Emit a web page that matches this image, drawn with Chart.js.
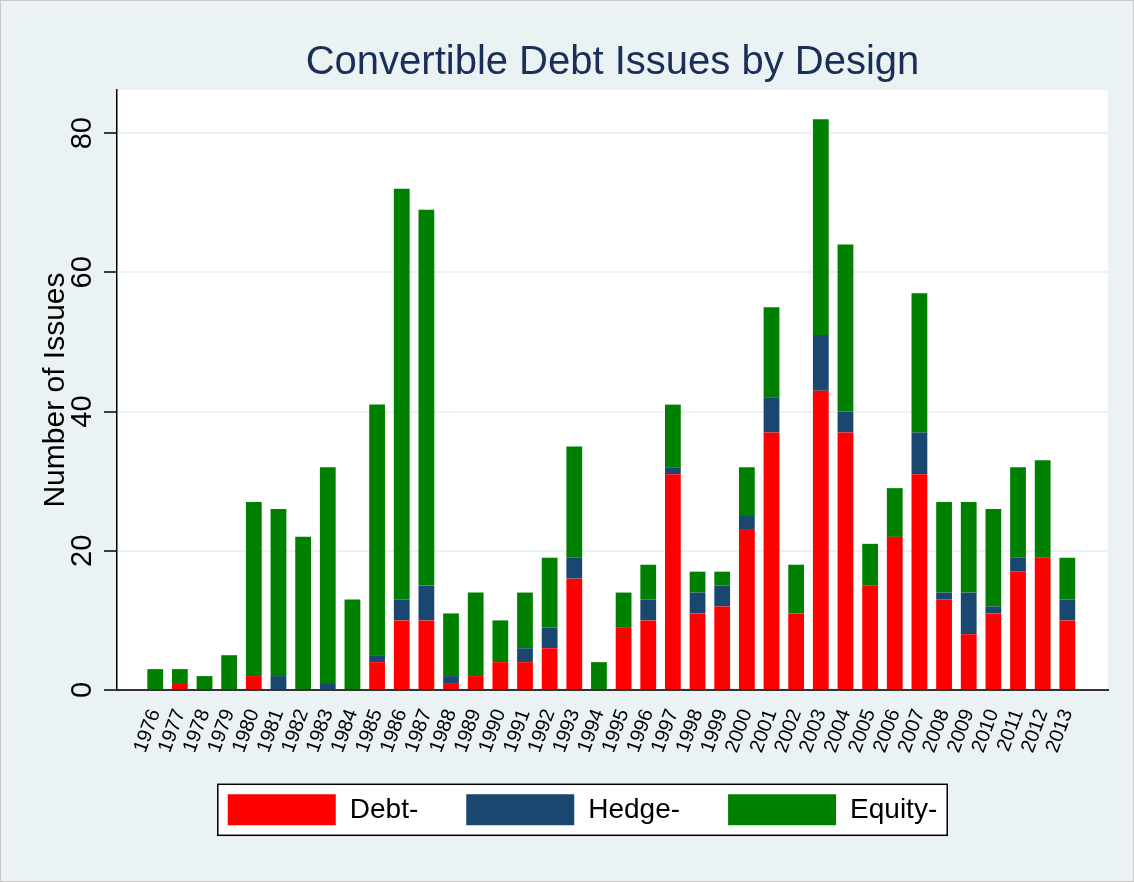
<!DOCTYPE html>
<html>
<head>
<meta charset="utf-8">
<script src="https://cdn.jsdelivr.net/npm/chart.js@4.4.1/dist/chart.umd.min.js"></script>
<style>
html,body{margin:0;padding:0;background:#EAF2F3;}
canvas{display:block;}
</style>
</head>
<body>
<canvas id="c" width="1134" height="882"></canvas>
<script>
// ---- data ----
const years  = [1976,1977,1978,1979,1980,1981,1982,1983,1984,1985,1986,1987,1988,1989,1990,1991,1992,1993,1994,1995,1996,1997,1998,1999,2000,2001,2002,2003,2004,2005,2006,2007,2008,2009,2010,2011,2012,2013];
const debt   = [0,1,0,0,2,0,0,0,0,4,10,10,1,2,4,4,6,16,0,9,10,31,11,12,23,37,11,43,37,15,22,31,13,8,11,17,19,10];
const hedge  = [0,0,0,0,0,2,0,1,0,1,3,5,1,0,0,2,3,3,0,0,3,1,3,3,2,5,0,8,3,0,0,6,1,6,1,2,0,3];
const equity = [3,2,2,5,25,24,22,31,13,36,59,54,9,12,6,8,10,16,4,5,5,9,3,2,7,13,7,31,24,6,7,20,13,13,14,13,14,6];
const yTickValues = [0,20,40,60,80];
const seriesNames = ['Debt-','Hedge-','Equity-'];
const seriesColors = ['#FF0000','#1A476F','#008000'];
const titleText = 'Convertible Debt Issues by Design';
const yTitleText = 'Number of Issues';

const FONT = "'Liberation Sans', Arial, Helvetica, sans-serif";

const bgPlugin = {
  id: 'bgPlugin',
  beforeDraw(chart) {
    const {ctx, chartArea: a, width, height} = chart;
    ctx.save();
    ctx.fillStyle = '#EAF2F3';
    ctx.fillRect(0, 0, width, height);
    ctx.strokeStyle = '#c8c8c8';
    ctx.lineWidth = 1;
    ctx.strokeRect(0.5, 0.5, width - 1, height - 1);
    ctx.fillStyle = '#FFFFFF';
    ctx.fillRect(a.left, a.top, a.right - a.left, a.bottom - a.top);
    const lg = chart.legend;
    if (lg && lg.legendHitBoxes && lg.legendHitBoxes.length) {
      const hb = lg.legendHitBoxes;
      const first = hb[0], last = hb[hb.length - 1];
      const l = first.left - 10, r = last.left + last.width + 10;
      const t = first.top - 10, b = first.top + first.height + 10;
      ctx.fillStyle = '#FFFFFF';
      ctx.fillRect(l, t, r - l, b - t);
      ctx.strokeStyle = '#000000';
      ctx.lineWidth = 1.5;
      ctx.strokeRect(l, t, r - l, b - t);
    }
    ctx.restore();
  }
};

const seriesData = [debt, hedge, equity];
const datasets = seriesNames.map((name, i) => ({
  label: name,
  data: seriesData[i],
  backgroundColor: seriesColors[i],
  borderWidth: 0,
  barPercentage: 0.64,
  categoryPercentage: 1.0
}));

new Chart(document.getElementById('c'), {
  type: 'bar',
  data: { labels: years, datasets },
  plugins: [bgPlugin],
  options: {
    responsive: false,
    animation: false,
    devicePixelRatio: 1,
    layout: { padding: { left: 57, right: 26, top: 0, bottom: 46.7 } },
    plugins: {
      tooltip: { enabled: false },
      title: {
        display: true,
        text: titleText,
        position: 'top',
        fullSize: false,
        color: '#1A2E57',
        font: { family: FONT, size: 40, weight: 'normal', lineHeight: 1.2 },
        padding: { top: 39, bottom: 3 }
      },
      legend: {
        display: true,
        position: 'bottom',
        labels: {
          boxWidth: 108,
          boxHeight: 31,
          padding: 48,
          color: '#000000',
          font: { family: FONT, size: 28 }
        }
      }
    },
    scales: {
      x: {
        type: 'linear',
        stacked: true,
        min: 1974.45,
        max: 2014.65,
        offset: false,
        afterBuildTicks: (s) => { s.ticks = years.map(v => ({ value: v })); },
        afterFit: (s) => {
          s.height = 56.3;
          // let the rotated year labels extend below the axis box (no clipping)
          s._computeLabelArea = () => undefined;
        },
        grid: { display: false, drawTicks: false, offset: false },
        border: { display: true, color: '#333333', width: 2 },
        ticks: {
          autoSkip: false,
          minRotation: 70,
          maxRotation: 70,
          padding: 16,
          color: '#000000',
          font: { family: FONT, size: 20 },
          callback: (v) => String(v)
        }
      },
      y: {
        type: 'linear',
        stacked: true,
        min: 0,
        max: 86.2,
        afterBuildTicks: (s) => { s.ticks = yTickValues.map(v => ({ value: v })); },
        afterFit: (s) => { s.width = 60; },
        grid: {
          color: (c) => (c.tick && c.tick.value === 0) ? '#333333' : '#EAF2F3',
          lineWidth: 2,
          drawTicks: true,
          tickLength: 13,
          tickColor: '#000000',
          tickWidth: 1.5
        },
        border: { display: true, color: '#000000', width: 1.5 },
        ticks: {
          minRotation: 90,
          maxRotation: 90,
          crossAlign: 'center',
          padding: 5,
          color: '#000000',
          font: { family: FONT, size: 29 }
        },
        title: {
          display: true,
          text: yTitleText,
          color: '#000000',
          font: { family: FONT, size: 30 },
          padding: { top: -19, bottom: 0 }
        }
      }
    }
  }
});
</script>
</body>
</html>
